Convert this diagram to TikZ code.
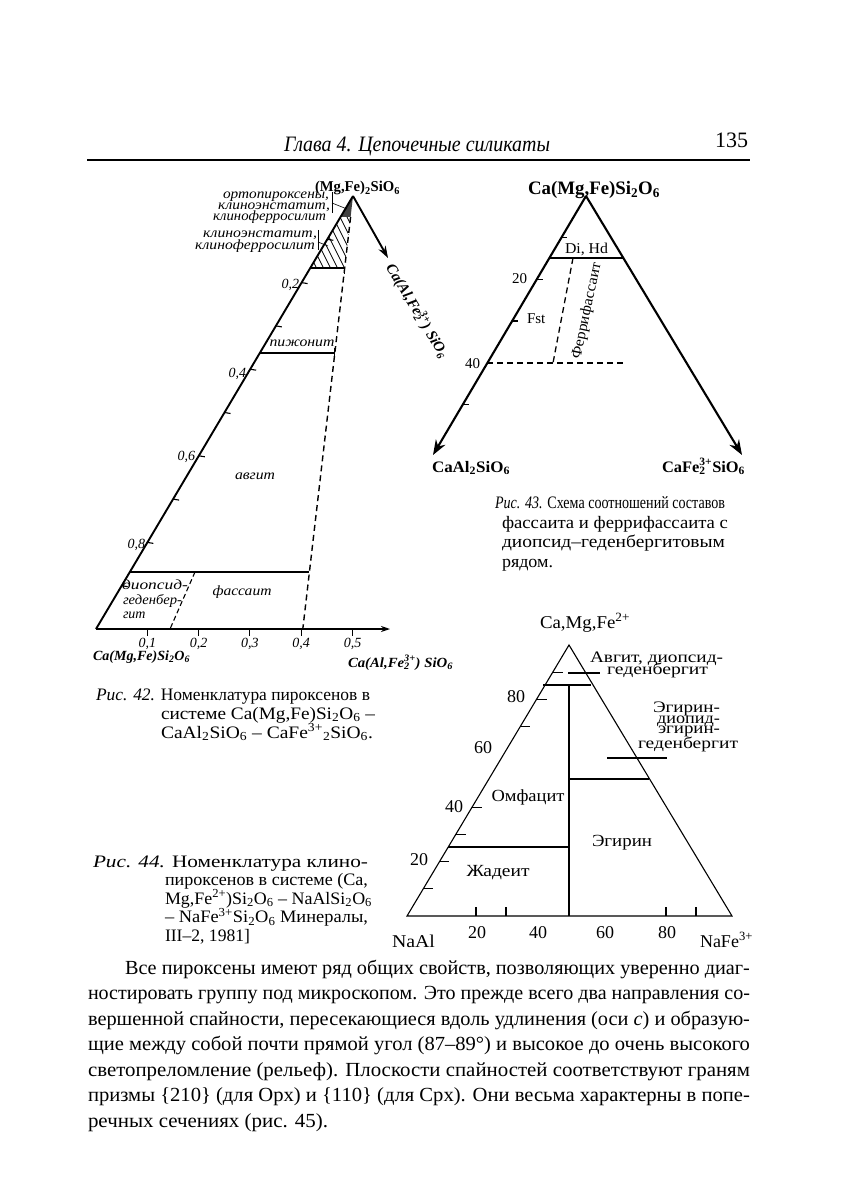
\documentclass[tikz,border=0pt]{standalone}
\usepackage{graphicx}
\usepackage{fontspec}
\setmainfont{Liberation Serif}
\usetikzlibrary{arrows.meta}
\newcommand\fsz[1]{\fontsize{#1}{#1}\selectfont}
\newlength\fitlen
\newsavebox\fitbox
\newcommand\fitline[2]{\sbox\fitbox{#2}\setlength\fitlen{\wd\fitbox}\pgfmathsetmacro\fitratio{#1/\fitlen}\scalebox{\fitratio}[1]{\usebox\fitbox}}
\newcommand\sbs[1]{\textsubscript{#1}}
\newcommand\sps[1]{\textsuperscript{#1}}
\newcommand\subsup[2]{\rlap{\textsubscript{#1}}\textsuperscript{#2}}
\tikzset{
  txt/.style={inner sep=0pt, outer sep=0pt},
  edge42/.style={line width=1.9pt},
  thin42/.style={line width=1.1pt},
  dash42/.style={line width=1.4pt, dash pattern=on 6pt off 4pt},
  edge43/.style={line width=2.1pt, -{Stealth[length=15pt,width=11pt]}},
  line44/.style={line width=1.1pt},
}
\begin{document}
\begin{tikzpicture}[x=1pt,y=-1pt, every node/.style={txt}]
\useasboundingbox (0,0) rectangle (841,1190);
\fill[white] (0,0) rectangle (841,1190);

% ---------- header ----------
\node[anchor=base west] (hdr) at (284,152) {\fitline{266}{\fsz{22}\itshape Глава 4. Цепочечные силикаты}};
\node[anchor=base east] (pgno) at (748,148) {\fsz{22}135};
\draw[line width=1.6pt] (87,160) -- (750,160);

% ---------- Fig. 42 ----------
\coordinate (A42) at (353,196);
\coordinate (B42) at (96,629);
\coordinate (X42) at (390,629);
\coordinate (Y42) at (388,258);
\fill[black!75] (A42) -- (340.5,217) -- (350.6,217) -- cycle;
\begin{scope}
  \clip (340.5,217) -- (350.6,217) -- (344.6,268) -- (310.3,268) -- cycle;
  \foreach \k in {250,257,...,360} \draw[line width=0.8pt] (\k,205) -- ++(35,70);
\end{scope}
\draw[edge42] (A42) -- (B42);
\draw[line width=1.3pt, -{Stealth[length=9pt,width=6pt]}] (B42) -- (X42);
\draw[edge42, -{Stealth[length=12pt,width=8pt]}] (A42) -- (Y42);
\draw[dash42] (350.6,217) -- (302.8,629);
\draw[thin42] (310.3,268) -- (344.6,268) -- (344.6,274);
\draw[thin42] (259.8,353) -- (334.8,353);
\draw[thin42] (334.8,348) -- (334.8,358);
\draw[thin42] (129.8,572) -- (309.4,572);
\draw[line width=1.1pt, dash pattern=on 5pt off 3pt] (195,572) -- (170,629);
\foreach \t in {1,...,9} \draw[line width=1.1pt] ({353-25.7*\t},{196+43.3*\t}) -- ++(6,1);
\foreach \k in {1,...,5} \draw[line width=1pt] ({96+51.3*\k},629) -- ++(0,7);
\draw[line width=0.6pt] (332,192) -- (332,213);
\draw[line width=0.6pt] (332,203) -- (347,209);
\draw[line width=0.6pt] (318,230) -- (318,250);
\draw[line width=0.6pt] (318,242) -- (328,246);
\node[anchor=base west] (t42) at (315,192) {\fitline{85}{\fsz{15}\bfseries (Mg,Fe)\sbs{2}SiO\sbs{6}}};
\node[anchor=center, rotate=-59] (r42) at (417,311) {\fitline{107}{\fsz{15}\bfseries\itshape Ca(Al,Fe\subsup{2}{3+}) SiO\sbs{6}}};
\node[anchor=base east] (l1) at (329,199) {\fitline{106}{\fsz{14}\itshape ортопироксены,}};
\node[anchor=base east] (l2) at (330,210) {\fitline{112}{\fsz{14}\itshape клиноэнстатит,}};
\node[anchor=base east] (l3) at (326,221) {\fitline{113}{\fsz{14}\itshape клиноферросилит}};
\node[anchor=base east] (l4) at (317,237) {\fitline{114}{\fsz{14}\itshape клиноэнстатит,}};
\node[anchor=base east] (l5) at (315,249) {\fitline{120}{\fsz{14}\itshape клиноферросилит}};
\node[anchor=base] (pig) at (302,346) {\fitline{65}{\fsz{14}\itshape пижонит}};
\node[anchor=base] (avg) at (255,479) {\fitline{40}{\fsz{14}\itshape авгит}};
\node[anchor=base west] (dg1) at (122,589) {\fitline{66}{\fsz{14}\itshape диопсид-}};
\node[anchor=base west] (dg2) at (123,604) {\fitline{59}{\fsz{14}\itshape геденбер-}};
\node[anchor=base west] (dg3) at (123,618) {\fsz{14}\itshape гит};
\node[anchor=base] (fas) at (242,595) {\fitline{59}{\fsz{14}\itshape фассаит}};
\node[anchor=base east] (v2) at (299,288) {\fsz{14}\itshape 0,2};
\node[anchor=base east] (v4) at (246,377) {\fsz{14}\itshape 0,4};
\node[anchor=base east] (v6) at (195,460) {\fsz{14}\itshape 0,6};
\node[anchor=base east] (v8) at (145,548) {\fsz{14}\itshape 0,8};
\node[anchor=base] (h1) at (147.3,647) {\fsz{14}\itshape 0,1};
\node[anchor=base] (h2) at (198.6,647) {\fsz{14}\itshape 0,2};
\node[anchor=base] (h3) at (249.9,647) {\fsz{14}\itshape 0,3};
\node[anchor=base] (h4) at (301.2,647) {\fsz{14}\itshape 0,4};
\node[anchor=base] (h5) at (352.5,647) {\fsz{14}\itshape 0,5};
\node[anchor=base west] (bl42) at (93,660) {\fitline{97}{\fsz{14}\bfseries\itshape Ca(Mg,Fe)Si\sbs{2}O\sbs{6}}};
\node[anchor=base west] (br42) at (348,667) {\fitline{105}{\fsz{14}\bfseries\itshape Ca(Al,Fe\subsup{2}{3+}) SiO\sbs{6}}};
\node[anchor=base west] (c42a) at (96,700) {\fitline{274}{\fsz{17.5}\textit{Рис. 42.} Номенклатура пироксенов в}};
\node[anchor=base west] (c42b) at (161,719) {\fitline{214}{\fsz{17.5}системе Ca(Mg,Fe)Si\sbs{2}O\sbs{6} –}};
\node[anchor=base west] (c42c) at (161,738) {\fitline{212}{\fsz{17.5}CaAl\sbs{2}SiO\sbs{6} – CaFe\sps{3+}\sbs{2}SiO\sbs{6}.}};

% ---------- Fig. 43 ----------
\coordinate (C43) at (586,196);
\coordinate (L43) at (433,455);
\coordinate (R43) at (742,455);
\draw[edge43] (C43) -- (L43);
\draw[edge43] (C43) -- (R43);
\foreach \p in {10,20,30,40,50} \draw[line width=1.3pt] ({586-2.463*\p},{196+4.17*\p}) -- ++(6,0);
\draw[line width=1.5pt] (549.4,258) -- (623.3,258);
\draw[line width=1.3pt, dash pattern=on 6pt off 4pt] (573,258) -- (553,363);
\draw[line width=1.3pt, dash pattern=on 6pt off 4pt] (487.4,363) -- (623,363);
\node[anchor=base west] (t43) at (528,195) {\fitline{132}{\fsz{19}\bfseries Ca(Mg,Fe)Si\sbs{2}O\sbs{6}}};
\node[anchor=base west] (dihd) at (565,253) {\fitline{43}{\fsz{15}Di, Hd}};
\node[anchor=base east] (p20) at (527,283) {\fsz{15}20};
\node[anchor=base east] (p40) at (480,368) {\fsz{15}40};
\node[anchor=base west] (fst) at (527,323) {\fsz{15}Fst};
\node[anchor=center, rotate=78] (ffs) at (587,311) {\fitline{98}{\fsz{15}Феррифассаит}};
\node[anchor=base west] (bl43) at (432,472) {\fitline{78}{\fsz{16}\bfseries CaAl\sbs{2}SiO\sbs{6}}};
\node[anchor=base west] (br43) at (662,472) {\fitline{83}{\fsz{16}\bfseries CaFe\subsup{2}{3+}SiO\sbs{6}}};
\node[anchor=base west] (c43a) at (495,508) {\fitline{230}{\fsz{17.5}\textit{Рис. 43.} Схема соотношений составов}};
\node[anchor=base west] (c43b) at (502,528) {\fitline{226}{\fsz{17.5}фассаита и феррифассаита с}};
\node[anchor=base west] (c43c) at (502,547) {\fitline{223}{\fsz{17.5}диопсид–геденбергитовым}};
\node[anchor=base west] (c43d) at (502,567) {\fitline{51}{\fsz{17.5}рядом.}};

% ---------- Fig. 44 ----------
\coordinate (L44) at (407,916);
\coordinate (R44) at (732,916);
\coordinate (T44) at (569,645);
\draw[line44] (L44) -- (T44) -- (R44) -- cycle;
\foreach \p in {10,20,30,40,70,80,90} \draw[line44] ({407+0.5978*2.71*\p},{916-2.71*\p}) -- ++(10,0);
\foreach \x in {476,506,666,696} \draw[line44] (\x,916) -- (\x,907);
\draw[line44] (569,916) -- (569,685);
\draw[line44] (543,685) -- (591,685);
\draw[line44] (568,673) -- (600,673);
\draw[line44] (569,779) -- (648.6,779);
\draw[line44] (448.2,847) -- (569,847);
\draw[line44] (607,758) -- (667,758);
\node[anchor=base west] (t44) at (540,628) {\fitline{90}{\fsz{18}Ca,Mg,Fe\sps{2+}}};
\node[anchor=base west] (a1) at (590,662) {\fitline{133}{\fsz{16}Авгит, диопсид-}};
\node[anchor=base west] (a2) at (607,674) {\fitline{101}{\fsz{16}геденбергит}};
\node[anchor=base] (e1) at (686.5,712) {\fitline{67}{\fsz{16}Эгирин-}};
\node[anchor=base] (e2) at (688.5,723) {\fitline{63}{\fsz{16}диопид-}};
\node[anchor=base] (e3) at (689,733) {\fitline{62}{\fsz{16}эгирин-}};
\node[anchor=base] (e4) at (688,748) {\fitline{100}{\fsz{16}геденбергит}};
\node[anchor=center] (omf) at (528,797) {\fitline{73}{\fsz{17}Омфацит}};
\node[anchor=center] (jad) at (498,873) {\fitline{63}{\fsz{17}Жадеит}};
\node[anchor=center] (egi) at (622,843) {\fitline{60}{\fsz{17}Эгирин}};
\node[anchor=base east] (q80) at (525,702) {\fsz{18}80};
\node[anchor=base east] (q60) at (492,753) {\fsz{18}60};
\node[anchor=base east] (q40) at (463,812) {\fsz{18}40};
\node[anchor=base east] (q20) at (428,865) {\fsz{18}20};
\node[anchor=base] (b20) at (477,938) {\fsz{18}20};
\node[anchor=base] (b40) at (538,938) {\fsz{18}40};
\node[anchor=base] (b60) at (605,938) {\fsz{18}60};
\node[anchor=base] (b80) at (667,938) {\fsz{18}80};
\node[anchor=base west] (naal) at (392,947) {\fitline{43}{\fsz{18}NaAl}};
\node[anchor=base west] (nafe) at (700,947) {\fsz{18}NaFe\sps{3+}};
\node[anchor=base west] (c44a) at (93,867) {\fitline{275}{\fsz{17.5}\textit{Рис. 44.} Номенклатура клино-}};
\node[anchor=base west] (c44b) at (165,885.5) {\fitline{203}{\fsz{17.5}пироксенов в системе (Ca,}};
\node[anchor=base west] (c44c) at (165,904) {\fitline{207}{\fsz{17.5}Mg,Fe\sps{2+})Si\sbs{2}O\sbs{6} – NaAlSi\sbs{2}O\sbs{6}}};
\node[anchor=base west] (c44d) at (165,922.5) {\fitline{203}{\fsz{17.5}– NaFe\sps{3+}Si\sbs{2}O\sbs{6} Минералы,}};
\node[anchor=base west] (c44e) at (165,941) {\fitline{85}{\fsz{17.5}III–2, 1981]}};

% ---------- body text ----------
\node[anchor=base west] (b1) at (125,974) {\fitline{625}{\fsz{20}Все пироксены имеют ряд общих свойств, позволяющих уверенно диаг-}};
\node[anchor=base west] (b2) at (88,999.5) {\fitline{662}{\fsz{20}ностировать группу под микроскопом. Это прежде всего два направления со-}};
\node[anchor=base west] (b3) at (88,1025) {\fitline{662}{\fsz{20}вершенной спайности, пересекающиеся вдоль удлинения (оси \textit{c}) и образую-}};
\node[anchor=base west] (b4) at (88,1050.5) {\fitline{662}{\fsz{20}щие между собой почти прямой угол (87–89°) и высокое до очень высокого}};
\node[anchor=base west] (b5) at (88,1076) {\fitline{662}{\fsz{20}светопреломление (рельеф). Плоскости спайностей соответствуют граням}};
\node[anchor=base west] (b6) at (88,1101.5) {\fitline{662}{\fsz{20}призмы \{210\} (для Opx) и \{110\} (для Cpx). Они весьма характерны в попе-}};
\node[anchor=base west] (b7) at (88,1127) {\fitline{240}{\fsz{20}речных сечениях (рис. 45).}};
\end{tikzpicture}
\end{document}
